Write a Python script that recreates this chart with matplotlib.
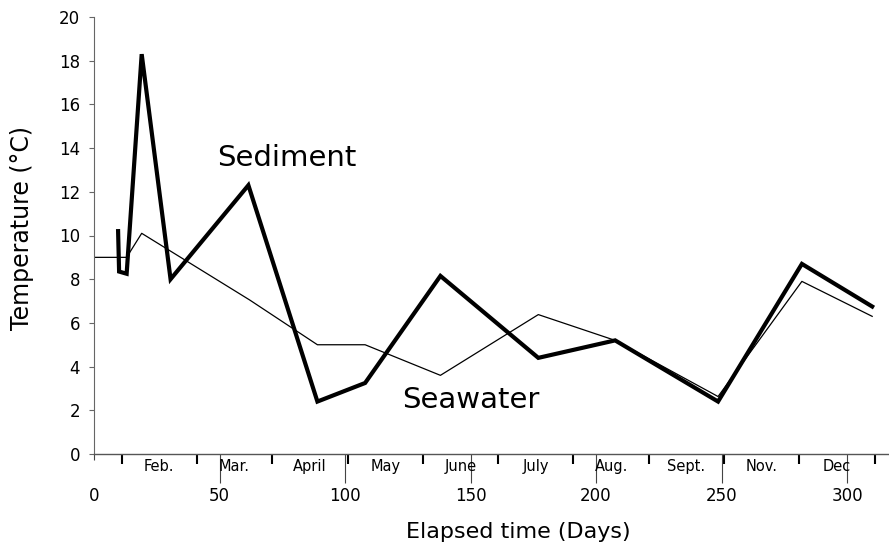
#Sediment vs seawater temperature
import numpy as np
import matplotlib.pyplot as plt
import matplotlib.transforms as mtransforms

# sediment (thick line)
sedDay = [9.6, 10, 13, 19, 30.5, 61.5, 89, 108, 138, 177, 207.6, 248.6, 282, 310]
sedT = [10.2, 8.35, 8.25, 18.3, 8.0, 12.3, 2.4, 3.25, 8.15, 4.4, 5.2, 2.4, 8.7, 6.75]

# seawater (thin line)
seaDay = [0, 13, 19, 62, 89, 108, 138, 177, 207.6, 248.6, 282, 310]
seaT = [9.0, 9.0, 10.1, 7.05, 5.0, 5.0, 3.6, 6.38, 5.2, 2.63, 7.9, 6.3]

# month boundaries and names
monthEdges = [11, 41, 71, 101, 131, 161, 191, 221, 251, 281, 311]
monthNames = ["Feb.", "Mar.", "April", "May", "June", "July", "Aug.", "Sept.", "Nov.", "Dec"]

xTicks = [0, 50, 100, 150, 200, 250, 300]
yTicks = [0, 2, 4, 6, 8, 10, 12, 14, 16, 18, 20]

W, H = 889, 547
fig = plt.figure(figsize=(W/100., H/100.), dpi=100)
Ax = fig.add_axes([94./W, 1-454./H, (W-94.)/W, (454.-17)/H])

Ax.plot(seaDay, seaT, color="black", lw=0.9)
Ax.plot(sedDay, sedT, color="black", lw=3.0, solid_joinstyle="miter")

Ax.set_xlim(0, 316.7)
Ax.set_ylim(0, 20)

for s in ["top", "right"]:
	Ax.spines[s].set_visible(False)
Ax.spines["left"].set_color("#666666")
Ax.spines["bottom"].set_color("#555555")
Ax.spines["left"].set_linewidth(0.8)
Ax.spines["bottom"].set_linewidth(1.0)

Ax.set_yticks(yTicks)
Ax.tick_params(axis="y", direction="out", length=3.5, width=0.8, pad=6.5,
	labelsize=12, color="#666666")

Ax.set_xticks(xTicks)
Ax.set_xticks(monthEdges, minor=True)
Ax.tick_params(axis="x", which="major", direction="out", length=21, width=0.8,
	pad=3, labelsize=12, color="#444444")
Ax.tick_params(axis="x", which="minor", direction="out", length=7.5, width=1.5,
	color="black")
Ax.xaxis.get_major_ticks()[0].tick1line.set_markersize(4)

mids = [0.5*(monthEdges[i]+monthEdges[i+1]) for i in range(len(monthNames))]
trans = Ax.get_xaxis_transform()
for m, name in zip(mids, monthNames):
	Ax.text(m, -0.0275, name, transform=trans, ha="center", va="center", fontsize=10.5)

Ax.text(77, 13.2, "Sediment", ha="center", va="baseline", fontsize=21)
Ax.text(150, 2.1, "Seawater", ha="center", va="baseline", fontsize=21)

fig.text(22./W, 1-228./H, "Temperature (\u00b0C)", rotation=90, ha="center",
	va="center", fontsize=17)
fig.text(518./W, 1-532./H, "Elapsed time (Days)", ha="center", va="center",
	fontsize=16)

plt.savefig("out.png", dpi=100)
